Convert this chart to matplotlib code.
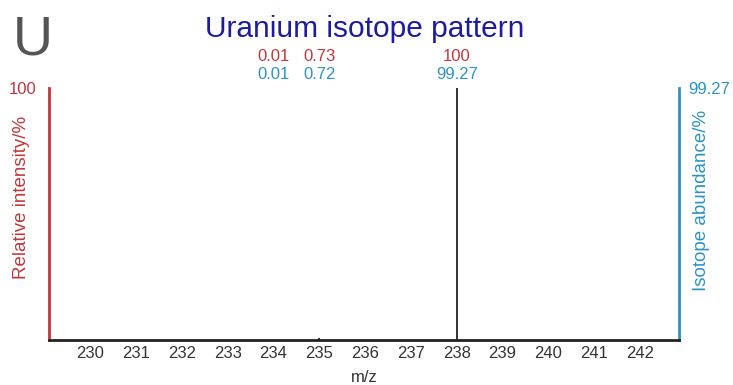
import numpy as np
import matplotlib.pyplot as plt

plt.rcParams['font.family'] = ['Liberation Sans', 'DejaVu Sans']

masses = [234, 235, 238]
intensity = [0.01, 0.73, 100]
abundance = [0.01, 0.72, 99.27]
tick_masses = list(range(230, 243))

red = '#c0373a'
blue = '#2b93c4'
grey = '#333333'

fig = plt.figure(figsize=(7.33, 3.85), dpi=100)
ax = fig.add_axes([0.0668, 0.1169, 0.8595, 0.6545])
ax.set_xlim(229.1, 242.85)
ax.set_ylim(0, 100)

ax.vlines(masses, 0, intensity, color='#222222', lw=1.3)

for m, a, b in zip(masses, intensity, abundance):
    ax.annotate('%g' % a, xy=(m, 100), xytext=(0, 22.5), textcoords='offset points',
                ha='center', va='center', color=red, fontsize=12)
    ax.annotate('%g' % b, xy=(m, 100), xytext=(0, 9.5), textcoords='offset points',
                ha='center', va='center', color=blue, fontsize=12)

ax.set_xticks(tick_masses)
ax.tick_params(axis='x', length=0, pad=4, labelsize=12, labelcolor=grey)
ax.set_yticks([])
ax.set_xlabel('m/z', color=grey, fontsize=12, va='center')
ax.xaxis.set_label_coords(0.5, -0.147)
ax.set_ylabel('Relative intensity/%', color=red, fontsize=13.5, va='center')
ax.yaxis.set_label_coords(-0.043, 0.567)

ax.spines['top'].set_visible(False)
ax.spines['left'].set_color(red)
ax.spines['left'].set_linewidth(2)
ax.spines['bottom'].set_color('#222222')
ax.spines['bottom'].set_linewidth(2)
ax.spines['right'].set_color(blue)
ax.spines['right'].set_linewidth(2)

ax2 = ax.twinx()
ax2.set_ylim(0, 100)
ax2.set_yticks([])
for s in ax2.spines.values():
    s.set_visible(False)
ax2.set_ylabel('Isotope abundance/%', color=blue, fontsize=13.5, va='center')
ax2.yaxis.set_label_coords(1.0365, 0.553)

ax.annotate('100', xy=(0, 1), xycoords='axes fraction', xytext=(-19, -1),
            textcoords='offset points', ha='center', va='center', color=red, fontsize=12)
ax.annotate('99.27', xy=(1, 1), xycoords='axes fraction', xytext=(7, -1),
            textcoords='offset points', ha='left', va='center', color=blue, fontsize=12)

fig.text(0.498, 0.925, 'Uranium isotope pattern', ha='center', va='center',
         color='#1c1c9c', fontsize=21.5)
fig.text(0.044, 0.895, 'U', ha='center', va='center', color='#555555', fontsize=40)

fig.savefig('out.png', dpi=100)
